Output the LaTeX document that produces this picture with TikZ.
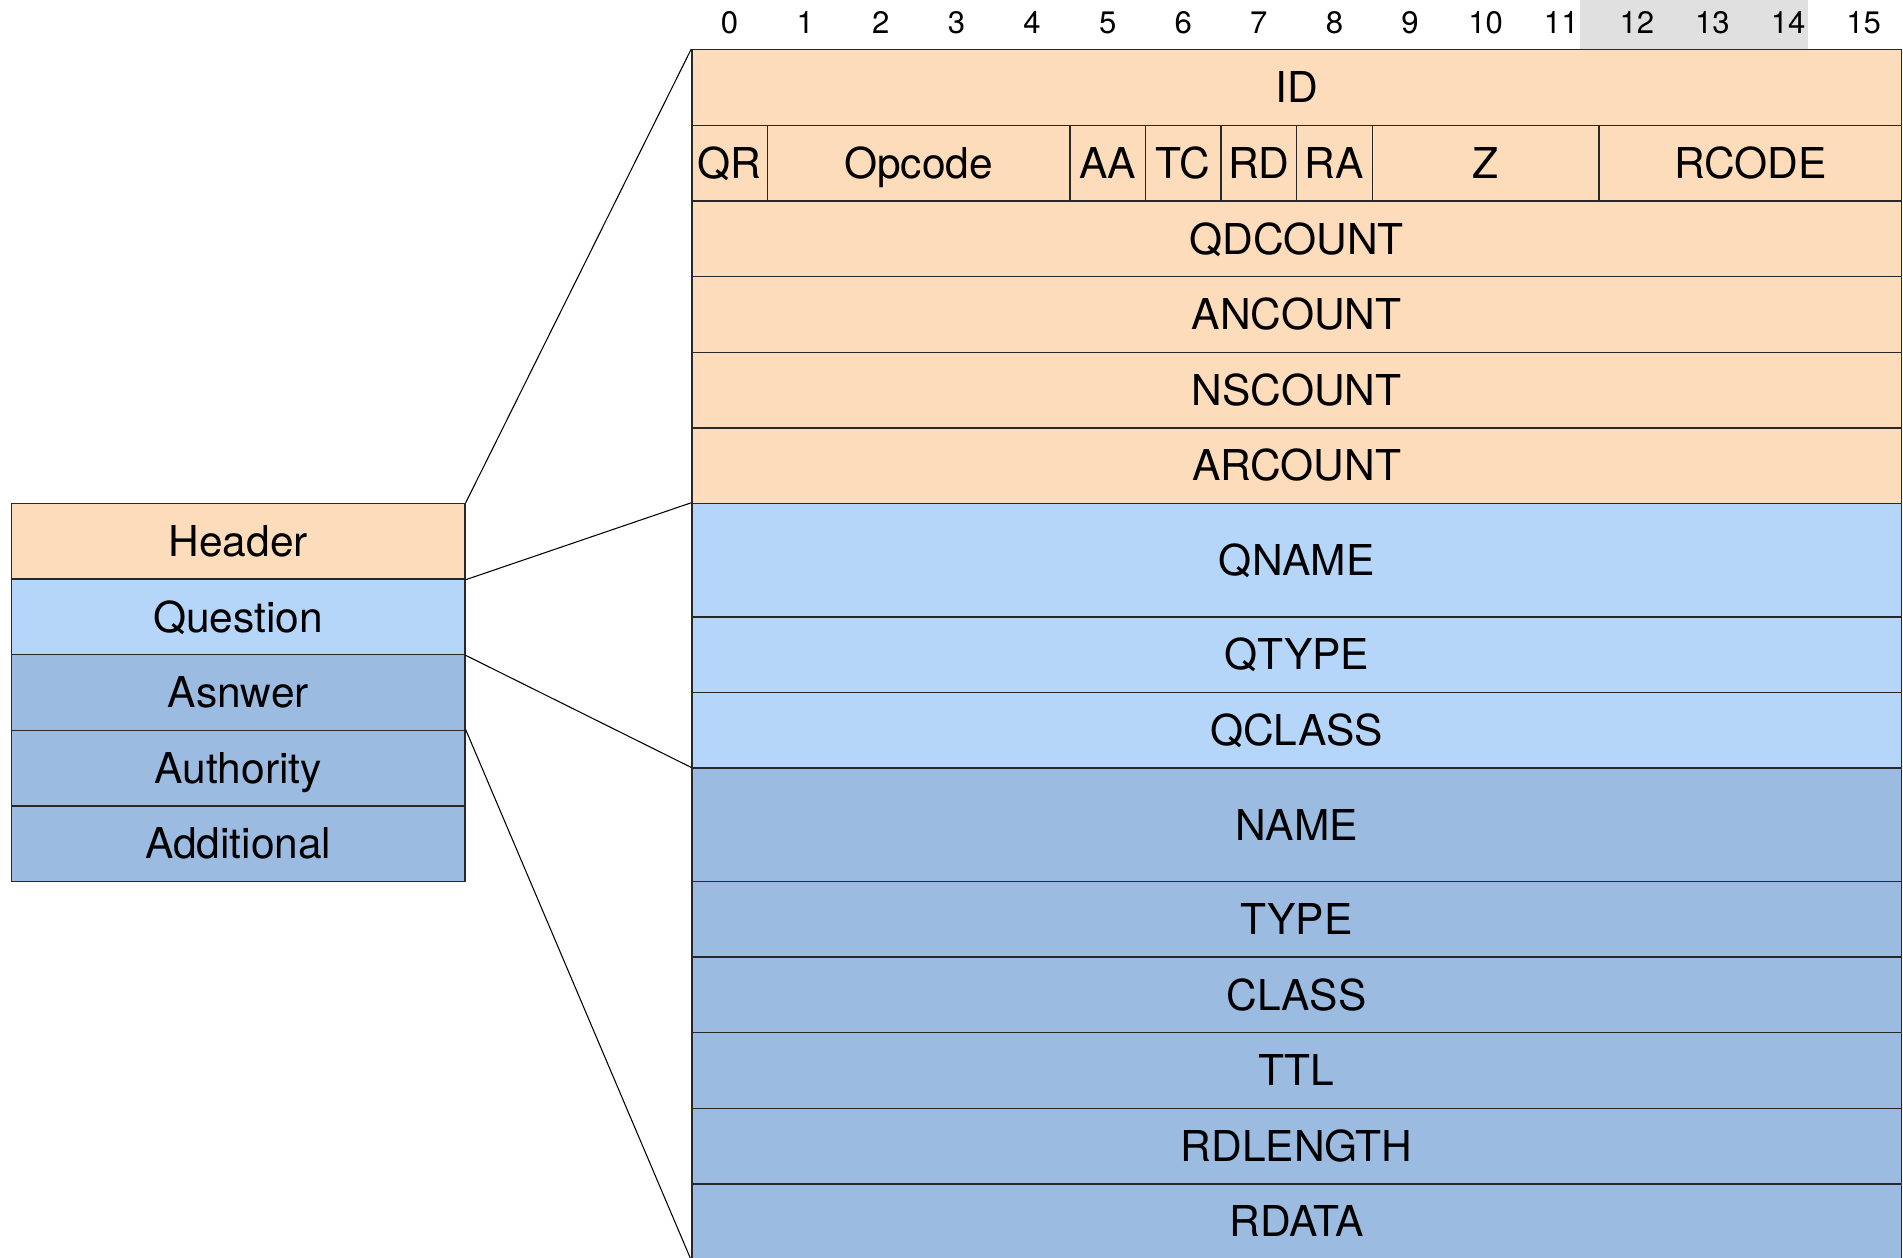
\documentclass[tikz,border=0pt]{standalone}
\usepackage{fontspec}
\setmainfont{TeX Gyre Heros}
\definecolor{hdrfill}{RGB}{253,220,187}
\definecolor{qfill}{RGB}{181,213,249}
\definecolor{rrfill}{RGB}{155,187,225}
\definecolor{bandgray}{RGB}{224,224,224}
\definecolor{edge}{RGB}{40,40,40}
\tikzset{
  fld/.style={draw=edge, line width=0.5pt, rectangle, inner sep=0pt,
    minimum width=#1cm, text height=11.5pt, text depth=0pt,
    font=\fontsize{16}{18}\selectfont},
  fld/.default=16,
  hdr/.style={fill=hdrfill},
  qst/.style={fill=qfill},
  rr/.style={fill=rrfill},
  bitnum/.style={inner sep=0pt, text height=8.4pt, text depth=0pt,
    font=\fontsize{11.7}{13}\selectfont},
  zoomline/.style={draw=black, line width=0.4pt}
}
\begin{document}
\begin{tikzpicture}
\useasboundingbox (-9.151,0.659) rectangle (16.02,-15.968);
\clip (-9.151,0.659) rectangle (16.02,-15.968);

% shaded bit range above the header
\fill[bandgray] (11.75,0) rectangle (14.76,0.7);

% bit numbers
\foreach \b in {0,...,15}
  \node[bitnum] (bit\b) at (\b+0.5,0.365) {\b};

% header section
\node[fld, hdr, minimum height=1cm] (id) at (8,-0.5) {ID};
\node[fld=1, hdr, minimum height=1cm] (qr) at (0.5,-1.5) {QR};
\node[fld=4, hdr, minimum height=1cm] (opcode) at (3,-1.5) {Opcode};
\node[fld=1, hdr, minimum height=1cm] (aa) at (5.5,-1.5) {AA};
\node[fld=1, hdr, minimum height=1cm] (tc) at (6.5,-1.5) {TC};
\node[fld=1, hdr, minimum height=1cm] (rd) at (7.5,-1.5) {RD};
\node[fld=1, hdr, minimum height=1cm] (ra) at (8.5,-1.5) {RA};
\node[fld=3, hdr, minimum height=1cm] (z) at (10.5,-1.5) {Z};
\node[fld=4, hdr, minimum height=1cm] (rcode) at (14,-1.5) {RCODE};
\node[fld, hdr, minimum height=1cm] (qdcount) at (8,-2.5) {QDCOUNT};
\node[fld, hdr, minimum height=1cm] (ancount) at (8,-3.5) {ANCOUNT};
\node[fld, hdr, minimum height=1cm] (nscount) at (8,-4.5) {NSCOUNT};
\node[fld, hdr, minimum height=1cm] (arcount) at (8,-5.5) {ARCOUNT};

% question section
\node[fld, qst, minimum height=1.5cm] (qname) at (8,-6.75) {QNAME};
\node[fld, qst, minimum height=1cm] (qtype) at (8,-8) {QTYPE};
\node[fld, qst, minimum height=1cm] (qclass) at (8,-9) {QCLASS};

% resource record
\node[fld, rr, minimum height=1.5cm] (name) at (8,-10.25) {NAME};
\node[fld, rr, minimum height=1cm] (type) at (8,-11.5) {TYPE};
\node[fld, rr, minimum height=1cm] (class) at (8,-12.5) {CLASS};
\node[fld, rr, minimum height=1cm] (ttl) at (8,-13.5) {TTL};
\node[fld, rr, minimum height=1cm] (rdlength) at (8,-14.5) {RDLENGTH};
\node[fld, rr, minimum height=1cm] (rdata) at (8,-15.5) {RDATA};

% message overview
\node[fld=6, hdr, minimum height=1cm] (header) at (-6,-6.5) {Header};
\node[fld=6, qst, minimum height=1cm] (question) at (-6,-7.5) {Question};
\node[fld=6, rr, minimum height=1cm] (answer) at (-6,-8.5) {Asnwer};
\node[fld=6, rr, minimum height=1cm] (authority) at (-6,-9.5) {Authority};
\node[fld=6, rr, minimum height=1cm] (additional) at (-6,-10.5) {Additional};

% expansion lines
\draw[zoomline] (header.north east) -- (id.north west);
\draw[zoomline] (header.south east) -- (qname.north west);
\draw[zoomline] (question.south east) -- (name.north west);
\draw[zoomline] (authority.north east) -- (rdata.south west);
\end{tikzpicture}
\end{document}
